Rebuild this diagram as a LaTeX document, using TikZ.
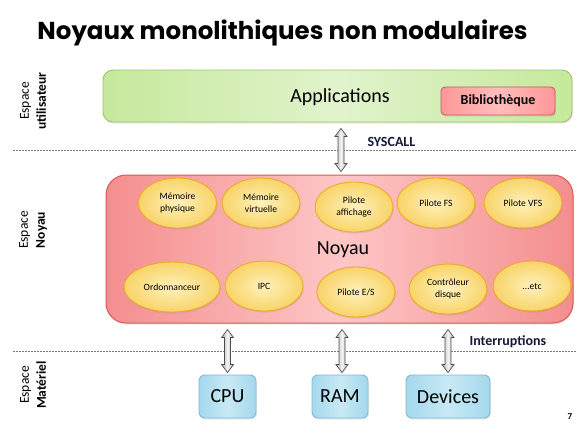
\documentclass[tikz,border=0pt]{standalone}
\usepackage{fontspec}
\setmainfont{Carlito}
\newfontfamily\titlefont{Poppins}
\usetikzlibrary{shapes.geometric,calc,shadows}
\definecolor{grnedge}{HTML}{C6E99C}
\definecolor{grnmid}{HTML}{E1F3CC}
\definecolor{grnline}{HTML}{9CC46A}
\definecolor{rededge}{HTML}{F48E8E}
\definecolor{redmid}{HTML}{FDC6C6}
\definecolor{redline}{HTML}{D65A5A}
\definecolor{libedge}{HTML}{FF9797}
\definecolor{libmid}{HTML}{FFBDBD}
\definecolor{libline}{HTML}{C8585A}
\definecolor{ellin}{HTML}{FFF1BC}
\definecolor{ellout}{HTML}{F8D468}
\definecolor{ellline}{HTML}{EEAA28}
\definecolor{bluedge}{HTML}{A4D8EC}
\definecolor{blumid}{HTML}{C8E9F5}
\definecolor{bluline}{HTML}{7FBAD2}
\definecolor{navy}{HTML}{14183A}
\definecolor{dashgray}{HTML}{7A7A7A}
\newcommand\dblarr[2]{\draw[harrow] let \p1=(#1), \p2=(#2) in
  (\x1,\y1) -- (\x1+6pt,\y1-8pt) -- (\x1+3pt,\y1-8pt) -- (\x1+3pt,\y2+8pt) --
  (\x1+6pt,\y2+8pt) -- (\x1,\y2) -- (\x1-6pt,\y2+8pt) -- (\x1-3pt,\y2+8pt) --
  (\x1-3pt,\y1-8pt) -- (\x1-6pt,\y1-8pt) -- cycle;}
\begin{document}
\begin{tikzpicture}[x=1pt,y=-1pt,
  softshadow/.style={drop shadow={opacity=0.18,shadow xshift=0.8pt,shadow yshift=-1.6pt}},
  appbox/.style={draw=grnline,line width=0.9pt,rounded corners=10pt,left color=grnedge,right color=grnedge,middle color=grnmid,softshadow,inner sep=0pt},
  libbox/.style={draw=libline,line width=0.8pt,rounded corners=4pt,left color=libedge,right color=libedge,middle color=libmid,softshadow,inner sep=0pt},
  kernbox/.style={draw=redline,line width=1pt,rounded corners=20pt,left color=rededge,right color=rededge,middle color=redmid,softshadow,inner sep=0pt},
  module/.style={ellipse,draw=ellline,line width=0.9pt,inner color=ellin,outer color=ellout,minimum width=78pt,minimum height=50pt,inner sep=0pt,align=center,font=\fontsize{9.6}{12}\selectfont,softshadow},
  hwbox/.style={draw=bluline,line width=0.9pt,rounded corners=6pt,left color=bluedge,right color=bluedge,middle color=blumid,minimum height=43pt,inner sep=0pt,font=\fontsize{20}{22}\selectfont,softshadow},
  harrow/.style={draw=black!70,line width=0.7pt,left color=gray!60,right color=gray!60,middle color=gray!8},
  sep/.style={draw=dashgray,line width=0.8pt,dash pattern=on 2pt off 1pt},
  sidelabel/.style={rotate=90,align=center,font=\fontsize{13.5}{17}\selectfont},
  tag/.style={font=\fontsize{14}{16}\selectfont\bfseries,text=navy},
  bigtext/.style={font=\fontsize{20}{22}\selectfont}]
\useasboundingbox (0,0) rectangle (582,429);
\fill[white] (0,0) rectangle (582,429);

% title
\node[font=\titlefont\fontsize{24.5}{28}\selectfont\bfseries] (title) at (282.5,33) {Noyaux monolithiques non modulaires};

% separators
\coordinate (l1a) at (13,150); \coordinate (l1b) at (576,150);
\coordinate (l2a) at (13,351); \coordinate (l2b) at (576,351);
\draw[sep] (l1a) -- (l1b);
\draw[sep] (l2a) -- (l2b);

% side labels
\node[sidelabel] (su) at (33,101) {Espace\\\textbf{utilisateur}};
\node[sidelabel] (sn) at (33,230) {Espace\\\textbf{Noyau}};
\node[sidelabel] (sm) at (33,385) {Espace\\\textbf{Matériel}};

% user space
\node[appbox,minimum width=469pt,minimum height=52pt] (app) at (337.5,96) {};
\node[bigtext] (apptxt) at (340,97) {Applications};
\node[libbox,minimum width=114pt,minimum height=28pt,tag,text=black!90!navy] (lib) at (498,101) {Bibliothèque};

% kernel
\node[kernbox,minimum width=467pt,minimum height=148pt] (noyau) at (339.5,249) {};
\node[bigtext] (noyautxt) at (343,250) {Noyau};

\node[module] (m1) at (177.5,203) {Mémoire\\physique};
\node[module] (m2) at (261,203) {Mémoire\\virtuelle};
\node[module] (m3) at (354,207) {Pilote\\affichage};
\node[module] (m4) at (436,203) {Pilote FS};
\node[module] (m5) at (523,203) {Pilote VFS};
\node[module,minimum width=96pt] (m6) at (172,287) {Ordonnanceur};
\node[module] (m7) at (264,286) {IPC};
\node[module] (m8) at (356,292) {Pilote E/S};
\node[module] (m9) at (448,289) {Contrôleur\\disque};
\node[module] (m10) at (532,286) {...etc};

% hardware
\node[hwbox,minimum width=57pt] (cpu) at (227.5,396.5) {CPU};
\node[hwbox,minimum width=56pt] (ram) at (340,396.5) {RAM};
\node[hwbox,minimum width=84pt] (dev) at (448,396.5) {Devices};

% arrows
\coordinate (sa) at ($(app.south)+(3.5,6)$);
\coordinate (sb) at ($(sa|-noyau.north)+(0,-3)$);
\dblarr{sa}{sb}
\coordinate (ca) at ($(cpu.north|-noyau.south)+(0,6)$);
\coordinate (cb) at ($(cpu.north)+(0,-2)$);
\dblarr{ca}{cb}
\coordinate (ra) at ($(ram.north|-noyau.south)+(2,6)$);
\coordinate (rb) at ($(ram.north)+(2,-2)$);
\dblarr{ra}{rb}
\coordinate (da) at ($(dev.north|-noyau.south)+(0,6)$);
\coordinate (db) at ($(dev.north)+(0,-2)$);
\dblarr{da}{db}

\node[tag,anchor=west] (syscall) at (364,142) {SYSCALL};
\node[tag,anchor=west] (irq) at (466,342) {Interruptions};

\node[font=\fontsize{9}{10}\selectfont\bfseries] (page) at (570,417) {7};
\end{tikzpicture}
\end{document}
